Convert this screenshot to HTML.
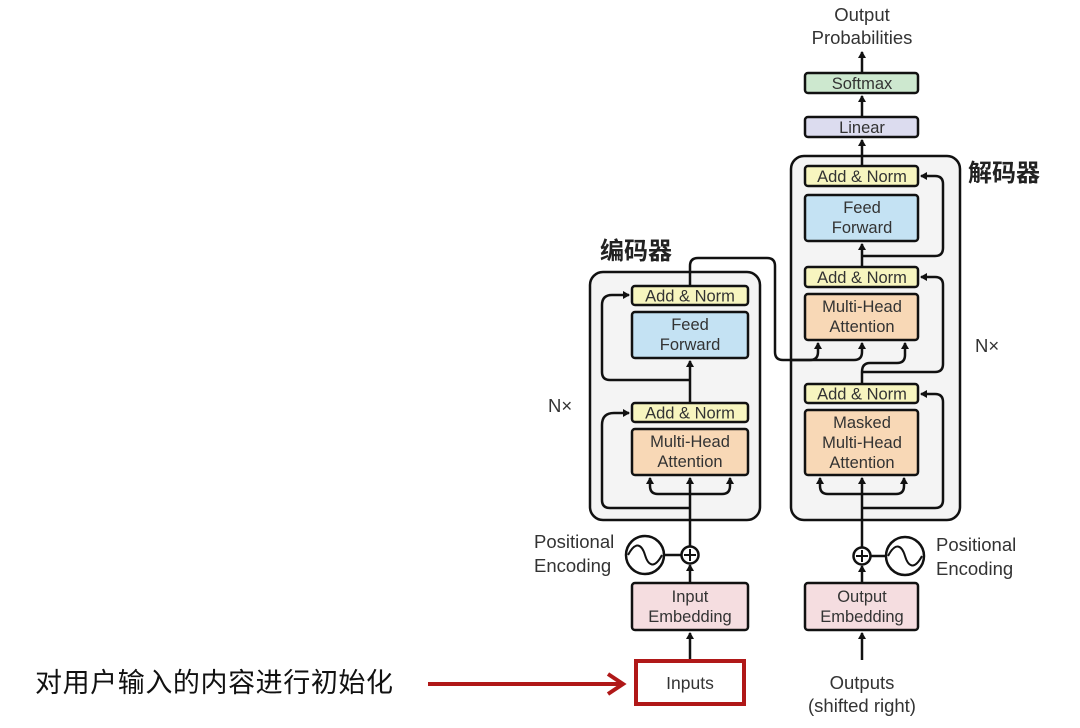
<!DOCTYPE html>
<html><head><meta charset="utf-8"><style>
html,body{margin:0;padding:0;background:#fff}
svg{display:block}
text{font-family:"Liberation Sans","Noto Sans CJK SC",sans-serif;fill:#333}
.b{stroke:#111;stroke-width:2.5}
.l{stroke:#111;stroke-width:2.5;fill:none}
</style></head><body>
<svg width="1080" height="728" viewBox="0 0 1080 728" xmlns="http://www.w3.org/2000/svg">
<defs>
<marker id="a" markerWidth="8" markerHeight="8" refX="6" refY="4" orient="auto" markerUnits="userSpaceOnUse">
<path d="M0,0 L7,4 L0,8 Z" fill="#111"/></marker>
</defs>
<rect x="590" y="272" width="170" height="248" rx="13" fill="#f4f4f4" class="b"/>
<rect x="791" y="156" width="169" height="364" rx="13" fill="#f4f4f4" class="b"/>

<path class="l" d="M690 660 V633" marker-end="url(#a)"/>
<path class="l" d="M690 583 V565" marker-end="url(#a)"/>
<path class="l" d="M690 547 V478" marker-end="url(#a)"/>
<path class="l" d="M690 494 H658 Q650 494 650 486 V478" marker-end="url(#a)"/>
<path class="l" d="M690 494 H722 Q730 494 730 486 V478" marker-end="url(#a)"/>
<path class="l" d="M690 508 H610 Q602 508 602 500 V425 Q602 413 614 413 H629" marker-end="url(#a)"/>
<path class="l" d="M690 422 V361" marker-end="url(#a)"/>
<path class="l" d="M690 380 H610 Q602 380 602 372 V305 Q602 295 612 295 H629" marker-end="url(#a)"/>
<path class="l" d="M690 286 V266 Q690 258 698 258 H767 Q775 258 775 266 V352 Q775 360 783 360 H810 Q818 360 818 352 V343" marker-end="url(#a)"/>
<path class="l" d="M790 360 H854 Q862 360 862 352 V343" marker-end="url(#a)"/>
<line x1="664" y1="555" x2="682" y2="555" class="b"/>
<circle cx="645" cy="555" r="19" fill="#fff" class="b"/>
<path class="l" style="stroke-width:2" d="M628 555 C636 540 642 545 645 555 C648 565 654 570 662 555"/>
<circle cx="690" cy="555" r="8.5" fill="#fff" class="b"/>
<path class="l" style="stroke-width:2" d="M690 549 V561 M684 555 H696"/>

<path class="l" d="M862 660 V633" marker-end="url(#a)"/>
<path class="l" d="M862 583 V566" marker-end="url(#a)"/>
<path class="l" d="M862 548 V478" marker-end="url(#a)"/>
<path class="l" d="M862 494 H828 Q820 494 820 486 V478" marker-end="url(#a)"/>
<path class="l" d="M862 494 H896 Q904 494 904 486 V478" marker-end="url(#a)"/>
<path class="l" d="M862 508 H935 Q943 508 943 500 V402 Q943 394 935 394 H921" marker-end="url(#a)"/>
<path class="l" d="M862 384 V372 Q862 363 870 363 H897 Q905 363 905 355 V343" marker-end="url(#a)"/>
<path class="l" d="M862 372 H935 Q943 372 943 364 V285 Q943 277 935 277 H921" marker-end="url(#a)"/>
<path class="l" d="M862 267 V244" marker-end="url(#a)"/>
<path class="l" d="M862 256 H935 Q943 256 943 248 V184 Q943 176 935 176 H921" marker-end="url(#a)"/>
<path class="l" d="M862 166 V140" marker-end="url(#a)"/>
<path class="l" d="M862 117 V96" marker-end="url(#a)"/>
<path class="l" d="M862 73 V52" marker-end="url(#a)"/>
<line x1="870" y1="556" x2="886" y2="556" class="b"/>
<circle cx="905" cy="556" r="19" fill="#fff" class="b"/>
<path class="l" style="stroke-width:2" d="M888 556 C896 541 902 546 905 556 C908 566 914 571 922 556"/>
<circle cx="862" cy="556" r="8.5" fill="#fff" class="b"/>
<path class="l" style="stroke-width:2" d="M862 550 V562 M856 556 H868"/>

<g font-size="16.5" text-anchor="middle">
<rect x="632" y="286" width="116" height="19" rx="3" fill="#f7f5bf" class="b"/><text x="690" y="301.5">Add &amp; Norm</text>
<rect x="632" y="312" width="116" height="46" rx="3" fill="#c4e2f3" class="b"/><text x="690" y="330">Feed</text><text x="690" y="350">Forward</text>
<rect x="632" y="403" width="116" height="19" rx="3" fill="#f7f5bf" class="b"/><text x="690" y="418.5">Add &amp; Norm</text>
<rect x="632" y="429" width="116" height="46" rx="3" fill="#f8d8b6" class="b"/><text x="690" y="447">Multi-Head</text><text x="690" y="467">Attention</text>
<rect x="632" y="583" width="116" height="47" rx="3" fill="#f5dde0" class="b"/><text x="690" y="602">Input</text><text x="690" y="622">Embedding</text>
<rect x="636" y="661" width="108" height="43" fill="#fff" stroke="#b01818" stroke-width="4"/><text x="690" y="689" font-size="17.5">Inputs</text>

<rect x="805" y="166" width="113" height="20" rx="3" fill="#f7f5bf" class="b"/><text x="862" y="182">Add &amp; Norm</text>
<rect x="805" y="195" width="113" height="46" rx="3" fill="#c4e2f3" class="b"/><text x="862" y="213">Feed</text><text x="862" y="233">Forward</text>
<rect x="805" y="267" width="113" height="20" rx="3" fill="#f7f5bf" class="b"/><text x="862" y="283">Add &amp; Norm</text>
<rect x="805" y="294" width="113" height="46" rx="3" fill="#f8d8b6" class="b"/><text x="862" y="312">Multi-Head</text><text x="862" y="332">Attention</text>
<rect x="805" y="384" width="113" height="19" rx="3" fill="#f7f5bf" class="b"/><text x="862" y="399.5">Add &amp; Norm</text>
<rect x="805" y="410" width="113" height="65" rx="3" fill="#f8d8b6" class="b"/><text x="862" y="428">Masked</text><text x="862" y="448">Multi-Head</text><text x="862" y="468">Attention</text>
<rect x="805" y="117" width="113" height="20" rx="3" fill="#dcdcef" class="b"/><text x="862" y="133">Linear</text>
<rect x="805" y="73" width="113" height="20" rx="3" fill="#cde8cf" class="b"/><text x="862" y="89">Softmax</text>
<rect x="805" y="583" width="113" height="47" rx="3" fill="#f5dde0" class="b"/><text x="862" y="602">Output</text><text x="862" y="622">Embedding</text>
</g>
<g font-size="18.5" text-anchor="middle">
<text x="862" y="21">Output</text><text x="862" y="44">Probabilities</text>
<text x="862" y="689">Outputs</text><text x="862" y="712">(shifted right)</text>
</g>
<g font-size="18.5">
<text x="534" y="548">Positional</text><text x="534" y="572">Encoding</text>
<text x="936" y="551">Positional</text><text x="936" y="575">Encoding</text>
<text x="548" y="412">N×</text><text x="975" y="352">N×</text>
</g>
<text x="600" y="259" font-size="24" font-weight="bold" style="fill:#222">编码器</text>
<text x="968" y="181" font-size="24" font-weight="bold" style="fill:#222">解码器</text>
<text x="35" y="692" font-size="27" textLength="358" style="fill:#111">对用户输入的内容进行初始化</text>
<path d="M428 684 H622" stroke="#b01818" stroke-width="4"/>
<path d="M608 674 L623 684 L608 694" stroke="#b01818" stroke-width="4" fill="none"/>
</svg>
</body></html>
